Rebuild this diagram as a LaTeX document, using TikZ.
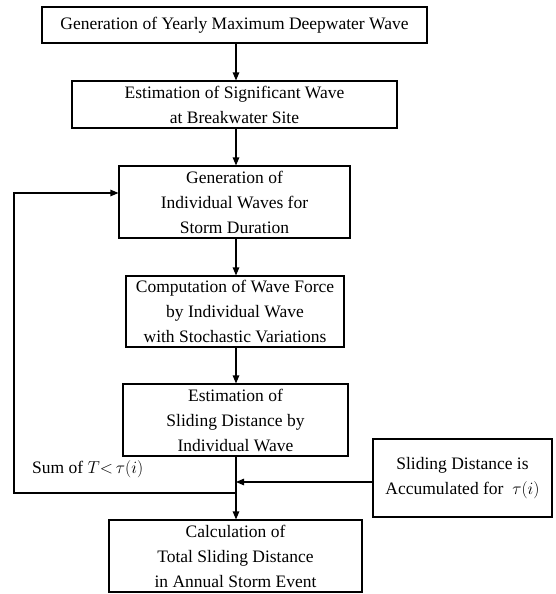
\documentclass[tikz,border=0pt]{standalone}
\usepackage{fontspec}
\setmainfont{Liberation Serif}
\usetikzlibrary{arrows.meta}
\begin{document}
\begin{tikzpicture}[x=1pt,y=-1pt,
  box/.style={draw,line width=1.1pt,rectangle,align=center,inner sep=0pt,
    font=\fontsize{17.5}{25}\selectfont},
  arr/.style={line width=1.1pt,-{Triangle[length=8pt,width=6.5pt]}},
  ln/.style={line width=1.1pt}]
\useasboundingbox (0,0) rectangle (555,594);
\node[box,minimum width=385pt,minimum height=36pt] (b1) at (234.5,25) {Generation of Yearly Maximum Deepwater Wave};
\node[box,minimum width=325pt,minimum height=47pt] (b2) at (234.5,104.5) {Estimation of Significant Wave\\at Breakwater Site};
\node[box,minimum width=231pt,minimum height=72pt] (b3) at (234.5,202) {Generation of\\Individual Waves for\\Storm Duration};
\node[box,minimum width=218pt,minimum height=71pt] (b4) at (235,311.5) {Computation of Wave Force\\by Individual Wave\\with Stochastic Variations};
\node[box,minimum width=225pt,minimum height=72pt] (b5) at (235.5,420) {Estimation of\\Sliding Distance by\\Individual Wave};
\node[box,minimum width=253pt,minimum height=72pt] (b6) at (235.5,556) {Calculation of\\Total Sliding Distance\\in Annual Storm Event};
\node[box,minimum width=179pt,minimum height=78pt] (rb) at (462.5,478) {Sliding Distance is\\Accumulated for~ $\tau(i)$};
\node[anchor=west,inner sep=0pt,font=\fontsize{17.5}{25}\selectfont] (sum) at (32,469) {Sum of $T{<}\,\tau(i)$};
\coordinate (ax) at (236,0);
\coordinate (j) at (236,482);
\coordinate (lp) at (236,493);
\coordinate (lc) at (14,493);
\coordinate (lt) at (14,193);
\draw[arr] (b1.south -| ax) -- (b2.north -| ax);
\draw[arr] (b2.south -| ax) -- (b3.north -| ax);
\draw[arr] (b3.south -| ax) -- (b4.north -| ax);
\draw[arr] (b4.south -| ax) -- (b5.north -| ax);
\draw[arr] (b5.south -| ax) -- (b6.north -| ax);
\draw[arr] (rb.west |- j) -- (j);
\draw[arr] (lp) -- (lc) -- (lt) -- (b3.west |- lt);
\end{tikzpicture}
\end{document}
